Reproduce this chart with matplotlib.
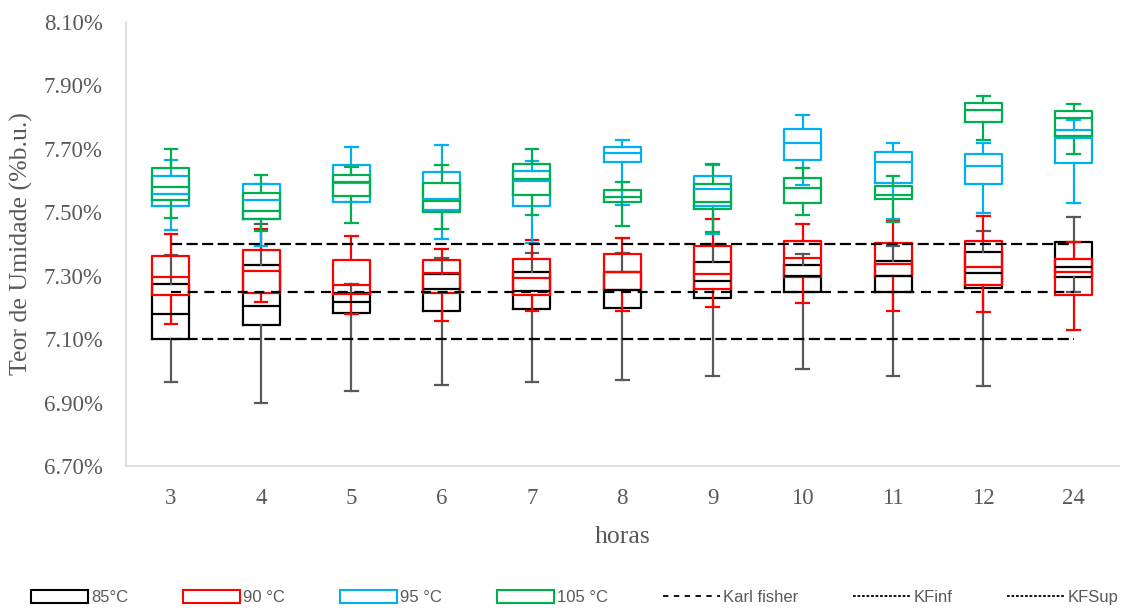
import numpy as np
import matplotlib
matplotlib.use('Agg')
import matplotlib.pyplot as plt
from matplotlib.patches import Patch
from matplotlib.lines import Line2D
from matplotlib.ticker import FuncFormatter

# categories (hours)
horas = ['3', '4', '5', '6', '7', '8', '9', '10', '11', '12', '24']

# 85 °C
t85_hi = [7.366, 7.463, 7.275, 7.355, 7.373, 7.371, 7.400, 7.369, 7.395, 7.440, 7.486]
t85_q3 = [7.274, 7.334, 7.246, 7.306, 7.313, 7.311, 7.343, 7.334, 7.345, 7.376, 7.405]
t85_md = [7.180, 7.206, 7.217, 7.258, 7.251, 7.254, 7.282, 7.300, 7.298, 7.310, 7.328]
t85_q1 = [7.100, 7.145, 7.183, 7.190, 7.196, 7.198, 7.229, 7.250, 7.250, 7.261, 7.295]
t85_lo = [6.965, 6.900, 6.936, 6.957, 6.965, 6.972, 6.985, 7.006, 6.985, 6.952, 7.250]

# 90 °C
t90_hi = [7.433, 7.446, 7.425, 7.385, 7.413, 7.420, 7.478, 7.463, 7.474, 7.488, 7.405]
t90_q3 = [7.363, 7.381, 7.349, 7.349, 7.352, 7.368, 7.394, 7.409, 7.404, 7.409, 7.352]
t90_md = [7.295, 7.316, 7.272, 7.310, 7.292, 7.311, 7.306, 7.355, 7.336, 7.329, 7.313]
t90_q1 = [7.238, 7.246, 7.243, 7.246, 7.238, 7.254, 7.257, 7.295, 7.300, 7.272, 7.240]
t90_lo = [7.147, 7.216, 7.180, 7.157, 7.190, 7.190, 7.200, 7.213, 7.190, 7.185, 7.130]

# 95 °C
t95_hi = [7.666, 7.588, 7.706, 7.713, 7.663, 7.728, 7.650, 7.807, 7.719, 7.718, 7.790]
t95_q3 = [7.613, 7.588, 7.648, 7.628, 7.629, 7.707, 7.614, 7.763, 7.690, 7.683, 7.759]
t95_md = [7.558, 7.540, 7.592, 7.543, 7.600, 7.688, 7.572, 7.719, 7.660, 7.646, 7.735]
t95_q1 = [7.519, 7.478, 7.531, 7.506, 7.520, 7.657, 7.520, 7.665, 7.592, 7.590, 7.654]
t95_lo = [7.444, 7.394, 7.531, 7.416, 7.402, 7.522, 7.431, 7.587, 7.480, 7.499, 7.529]

# 105 °C
t105_hi = [7.701, 7.616, 7.642, 7.648, 7.701, 7.594, 7.652, 7.641, 7.613, 7.866, 7.840]
t105_q3 = [7.640, 7.560, 7.618, 7.592, 7.652, 7.571, 7.590, 7.607, 7.584, 7.844, 7.818]
t105_md = [7.580, 7.505, 7.596, 7.536, 7.605, 7.548, 7.531, 7.575, 7.556, 7.822, 7.796]
t105_q1 = [7.538, 7.478, 7.552, 7.501, 7.553, 7.532, 7.511, 7.528, 7.543, 7.786, 7.740]
t105_lo = [7.482, 7.440, 7.467, 7.447, 7.492, 7.457, 7.438, 7.490, 7.470, 7.727, 7.684]

# reference lines (Karl Fischer)
kf = [7.25] * len(horas)
kf_inf = [7.10] * len(horas)
kf_sup = [7.40] * len(horas)

series = [
    ('85°C', '#000000', '#595959', t85_lo, t85_q1, t85_md, t85_q3, t85_hi),
    ('90 °C', '#FF0000', '#FF0000', t90_lo, t90_q1, t90_md, t90_q3, t90_hi),
    ('95 °C', '#00B0F0', '#00B0F0', t95_lo, t95_q1, t95_md, t95_q3, t95_hi),
    ('105 °C', '#00B050', '#00B050', t105_lo, t105_q1, t105_md, t105_q3, t105_hi),
]

serif = ['Liberation Serif', 'DejaVu Serif']
grey = '#595959'

fig = plt.figure(figsize=(11.38, 6.10), dpi=100)
ax = fig.add_axes([0.1105, 0.236, 0.8726, 0.728])
pos = np.arange(len(horas))

handles = []
for name, c, wc, lo, q1, md, q3, hi in series:
    stats = [dict(whislo=lo[i], q1=q1[i], med=md[i], q3=q3[i], whishi=hi[i], fliers=[])
             for i in range(len(horas))]
    ax.bxp(stats, positions=pos, widths=0.41, capwidths=0.14, showfliers=False,
           boxprops=dict(color=c, linewidth=1.6),
           medianprops=dict(color=c, linewidth=1.6),
           whiskerprops=dict(color=wc, linewidth=1.6),
           capprops=dict(color=wc, linewidth=1.6),
           manage_ticks=False)
    handles.append(Patch(facecolor='white', edgecolor=c, linewidth=1.5, label=name))

ax.plot(pos, kf, color='black', lw=1.6, dashes=(4.5, 3))
ax.plot(pos, kf_inf, color='black', lw=1.6, dashes=(5, 2))
ax.plot(pos, kf_sup, color='black', lw=1.6, dashes=(5, 2))
handles.append(Line2D([], [], color='black', lw=1.3, dashes=(3, 3), label='Karl fisher'))
handles.append(Line2D([], [], color='black', lw=1.3, dashes=(1.5, 1), label='KFinf'))
handles.append(Line2D([], [], color='black', lw=1.3, dashes=(1.5, 1), label='KFSup'))

ax.set_xlim(-0.5, len(horas) - 0.5)
ax.set_ylim(6.70, 8.10)
ax.set_yticks(np.arange(6.70, 8.101, 0.20))
ax.yaxis.set_major_formatter(FuncFormatter(lambda v, p: '{:.2f}%'.format(v)))
ax.set_xticks(pos)
ax.set_xticklabels(horas)

for s in ['top', 'right']:
    ax.spines[s].set_visible(False)
for s in ['left', 'bottom']:
    ax.spines[s].set_color('#D9D9D9')
    ax.spines[s].set_linewidth(1.2)
ax.tick_params(length=0, labelsize=16.5, labelcolor=grey)
ax.tick_params(axis='x', pad=16)
ax.tick_params(axis='y', pad=16.5)
for lab in ax.get_xticklabels() + ax.get_yticklabels():
    lab.set_family(serif)

ax.set_ylabel('Teor de Umidade (%b.u.)', fontsize=18.5, color=grey, family=serif, labelpad=8)
ax.set_xlabel('horas', fontsize=18.5, color=grey, family=serif, labelpad=12)

fig.legend(handles=handles, loc='center', bbox_to_anchor=(0.505, 0.02), ncol=7,
           frameon=False, handlelength=3.4, handleheight=0.8, handletextpad=0.2,
           columnspacing=3.3, prop=dict(family=['Liberation Sans'], size=12),
           labelcolor=grey)

fig.savefig('out.png', dpi=100)
